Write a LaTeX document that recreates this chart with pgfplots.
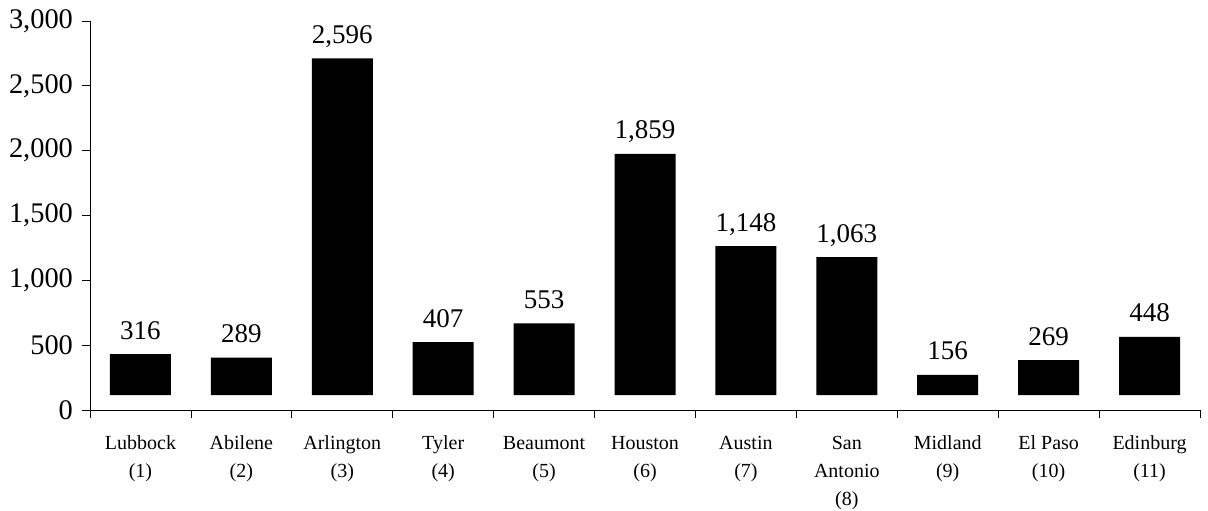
\documentclass[border=0pt]{standalone}
\usepackage{fontspec}
\setmainfont{Liberation Serif}
\usepackage{pgfplots}
\pgfplotsset{compat=1.18}
\begin{document}
\begin{tikzpicture}
\begin{axis}[
  scale only axis, width=555pt, height=194.5pt,
  xmin=0.5, xmax=11.5, ymin=0, ymax=3000,
  ybar, bar width=30.5pt,
  axis x line*=bottom, axis y line*=left,
  axis line style={-, black},
  ytick={0,500,...,3000},
  yticklabel style={font=\fontsize{14.2}{16}\selectfont, /pgf/number format/1000 sep={,}, /pgf/number format/assume math mode=true, xshift=-1pt},
  xtick={1,...,11},
  xticklabels={Lubbock\\(1), Abilene\\(2), Arlington\\(3), Tyler\\(4), Beaumont\\(5), Houston\\(6), Austin\\(7), San\\Antonio\\(8), Midland\\(9), El Paso\\(10), Edinburg\\(11)},
  major x tick style={draw=none},
  minor xtick={0.5,1.5,...,11.5},
  tick align=outside, major tick length=4pt, minor tick length=4pt,
  tick style={black, thin},
  xticklabel style={align=center, font=\fontsize{10}{14}\selectfont, anchor=north, yshift=-5.5pt},
  nodes near coords,
  every node near coord/.append style={font=\fontsize{13.5}{15}\selectfont, /pgf/number format/1000 sep={,}, /pgf/number format/assume math mode=true, anchor=base, yshift=7.5pt},
]
\addplot[fill=black, draw=none, yshift=7.5pt] coordinates {
(1,316) (2,289) (3,2596) (4,407) (5,553) (6,1859) (7,1148) (8,1063) (9,156) (10,269) (11,448)
};
\end{axis}
\pgfresetboundingbox
\path (-45pt,-50pt) rectangle (559pt,205pt);
\end{tikzpicture}
\end{document}
